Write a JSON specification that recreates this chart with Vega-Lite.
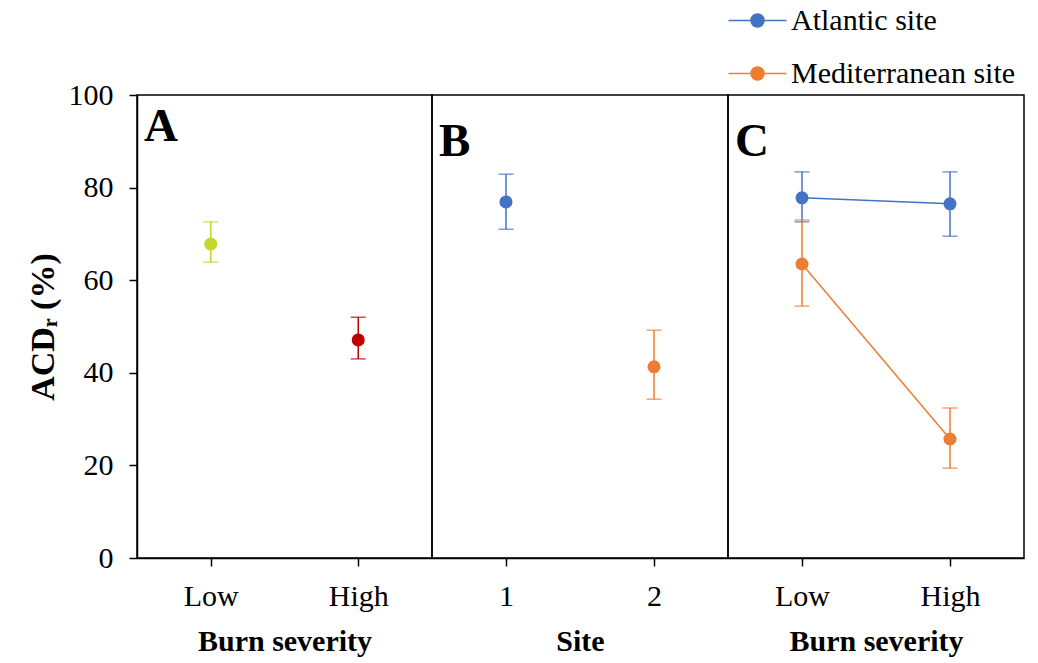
{
  "$schema": "https://vega.github.io/schema/vega-lite/v6.json",
  "padding": {"left": 25, "top": 5, "right": 5, "bottom": 0},
  "background": "white",
  "bounds": "flush",
  "config": {
    "font": "Liberation Serif",
    "view": {"stroke": "black", "strokeWidth": 1.5},
    "axis": {
      "domainColor": "black", "domainWidth": 1.5, "tickColor": "black", "tickWidth": 1.5, "tickSize": 8,
      "labelFont": "Liberation Serif", "labelFontSize": 30, "labelColor": "black",
      "titleFont": "Liberation Serif", "titleFontSize": 30, "titleFontWeight": "bold", "titleColor": "black",
      "grid": false
    },
    "title": {"font": "Liberation Serif", "fontSize": 47, "fontWeight": "bold", "color": "black", "anchor": "start", "frame": "group", "offset": -71, "dx": 7},
    "legend": {"labelFont": "Liberation Serif", "labelFontSize": 30, "labelColor": "black", "padding": 0, "labelLimit": 400, "symbolOpacity": 1}
  },
  "datasets": {
    "pts": [
      {"panel": "A", "cat": "Low", "series": "Low burn", "value": 67.8, "lo": 63.9, "hi": 72.6},
      {"panel": "A", "cat": "High", "series": "High burn", "value": 47.1, "lo": 43.0, "hi": 52.0},
      {"panel": "B", "cat": "1", "series": "Atlantic site", "value": 76.9, "lo": 71.0, "hi": 82.9},
      {"panel": "B", "cat": "2", "series": "Mediterranean site", "value": 41.3, "lo": 34.3, "hi": 49.2},
      {"panel": "C", "cat": "Low", "series": "Atlantic site", "value": 77.8, "lo": 72.6, "hi": 83.4},
      {"panel": "C", "cat": "High", "series": "Atlantic site", "value": 76.5, "lo": 69.5, "hi": 83.4},
      {"panel": "C", "cat": "Low", "series": "Mediterranean site", "value": 63.5, "lo": 54.4, "hi": 73.0},
      {"panel": "C", "cat": "High", "series": "Mediterranean site", "value": 25.7, "lo": 19.4, "hi": 32.4}
    ]
  },
  "resolve": {"scale": {"color": "shared"}, "legend": {"color": "shared"}},
  "spacing": 0,
  "hconcat": [
    {
      "width": 295, "height": 463,
      "title": {"text": "A"},
      "data": {"name": "pts"},
      "transform": [{"filter": "datum.panel === 'A'"}],
      "encoding": {
        "x": {"field": "cat", "type": "nominal", "sort": ["Low", "High"], "scale": {"type": "point", "padding": 0.5},
              "axis": {"title": "Burn severity", "labelAngle": 0, "labelPadding": 15, "titlePadding": 15}},
        "color": {"field": "series", "type": "nominal",
                  "scale": {"domain": ["Low burn", "High burn", "Atlantic site", "Mediterranean site"], "range": ["#c5d630", "#c00000", "#4472c4", "#ed7d31"]},
                  "legend": {"values": ["Atlantic site", "Mediterranean site"], "title": null, "orient": "none", "legendX": 605, "legendY": -90,
                             "symbolType": "M-2,0H2M-0.45,0A0.45,0.45,0,1,0,0.45,0A0.45,0.45,0,1,0,-0.45,0", "symbolSize": 841, "symbolStrokeWidth": 1.5,
                             "labelOffset": 18, "rowPadding": 22}}
      },
      "layer": [
        {"mark": {"type": "rule", "strokeWidth": 1.5}, "encoding": {"y": {"field": "lo", "type": "quantitative", "scale": {"domain": [0, 100]},
           "axis": {"title": "ACDᵣ (%)", "titleFontSize": 34, "values": [0, 20, 40, 60, 80, 100], "labelPadding": 16, "titlePadding": 8}}, "y2": {"field": "hi"}}},
        {"mark": {"type": "tick", "size": 15, "thickness": 1.5}, "encoding": {"y": {"field": "lo", "type": "quantitative"}}},
        {"mark": {"type": "tick", "size": 15, "thickness": 1.5}, "encoding": {"y": {"field": "hi", "type": "quantitative"}}},
        {"mark": {"type": "point", "filled": true, "size": 170, "opacity": 1}, "encoding": {"y": {"field": "value", "type": "quantitative"}}}
      ]
    },
    {
      "width": 296, "height": 463,
      "title": {"text": "B"},
      "data": {"name": "pts"},
      "transform": [{"filter": "datum.panel === 'B'"}],
      "encoding": {
        "x": {"field": "cat", "type": "nominal", "sort": ["1", "2"], "scale": {"type": "point", "padding": 0.5},
              "axis": {"title": "Site", "labelAngle": 0, "labelPadding": 15, "titlePadding": 15}},
        "color": {"field": "series", "type": "nominal"}
      },
      "layer": [
        {"mark": {"type": "rule", "strokeWidth": 1.5}, "encoding": {"y": {"field": "lo", "type": "quantitative", "scale": {"domain": [0, 100]}, "axis": null}, "y2": {"field": "hi"}}},
        {"mark": {"type": "tick", "size": 15, "thickness": 1.5}, "encoding": {"y": {"field": "lo", "type": "quantitative"}}},
        {"mark": {"type": "tick", "size": 15, "thickness": 1.5}, "encoding": {"y": {"field": "hi", "type": "quantitative"}}},
        {"mark": {"type": "point", "filled": true, "size": 170, "opacity": 1}, "encoding": {"y": {"field": "value", "type": "quantitative"}}}
      ]
    },
    {
      "width": 296, "height": 463,
      "title": {"text": "C"},
      "data": {"name": "pts"},
      "transform": [{"filter": "datum.panel === 'C'"}],
      "encoding": {
        "x": {"field": "cat", "type": "nominal", "sort": ["Low", "High"], "scale": {"type": "point", "padding": 0.5},
              "axis": {"title": "Burn severity", "labelAngle": 0, "labelPadding": 15, "titlePadding": 15}},
        "color": {"field": "series", "type": "nominal"}
      },
      "layer": [
        {"mark": {"type": "line", "strokeWidth": 1.5}, "encoding": {"y": {"field": "value", "type": "quantitative", "scale": {"domain": [0, 100]}, "axis": null}}},
        {"mark": {"type": "rule", "strokeWidth": 1.5}, "encoding": {"y": {"field": "lo", "type": "quantitative"}, "y2": {"field": "hi"}}},
        {"mark": {"type": "tick", "size": 15, "thickness": 1.5}, "encoding": {"y": {"field": "lo", "type": "quantitative"}}},
        {"mark": {"type": "tick", "size": 15, "thickness": 1.5}, "encoding": {"y": {"field": "hi", "type": "quantitative"}}},
        {"mark": {"type": "point", "filled": true, "size": 170, "opacity": 1}, "encoding": {"y": {"field": "value", "type": "quantitative"}}}
      ]
    }
  ]
}
